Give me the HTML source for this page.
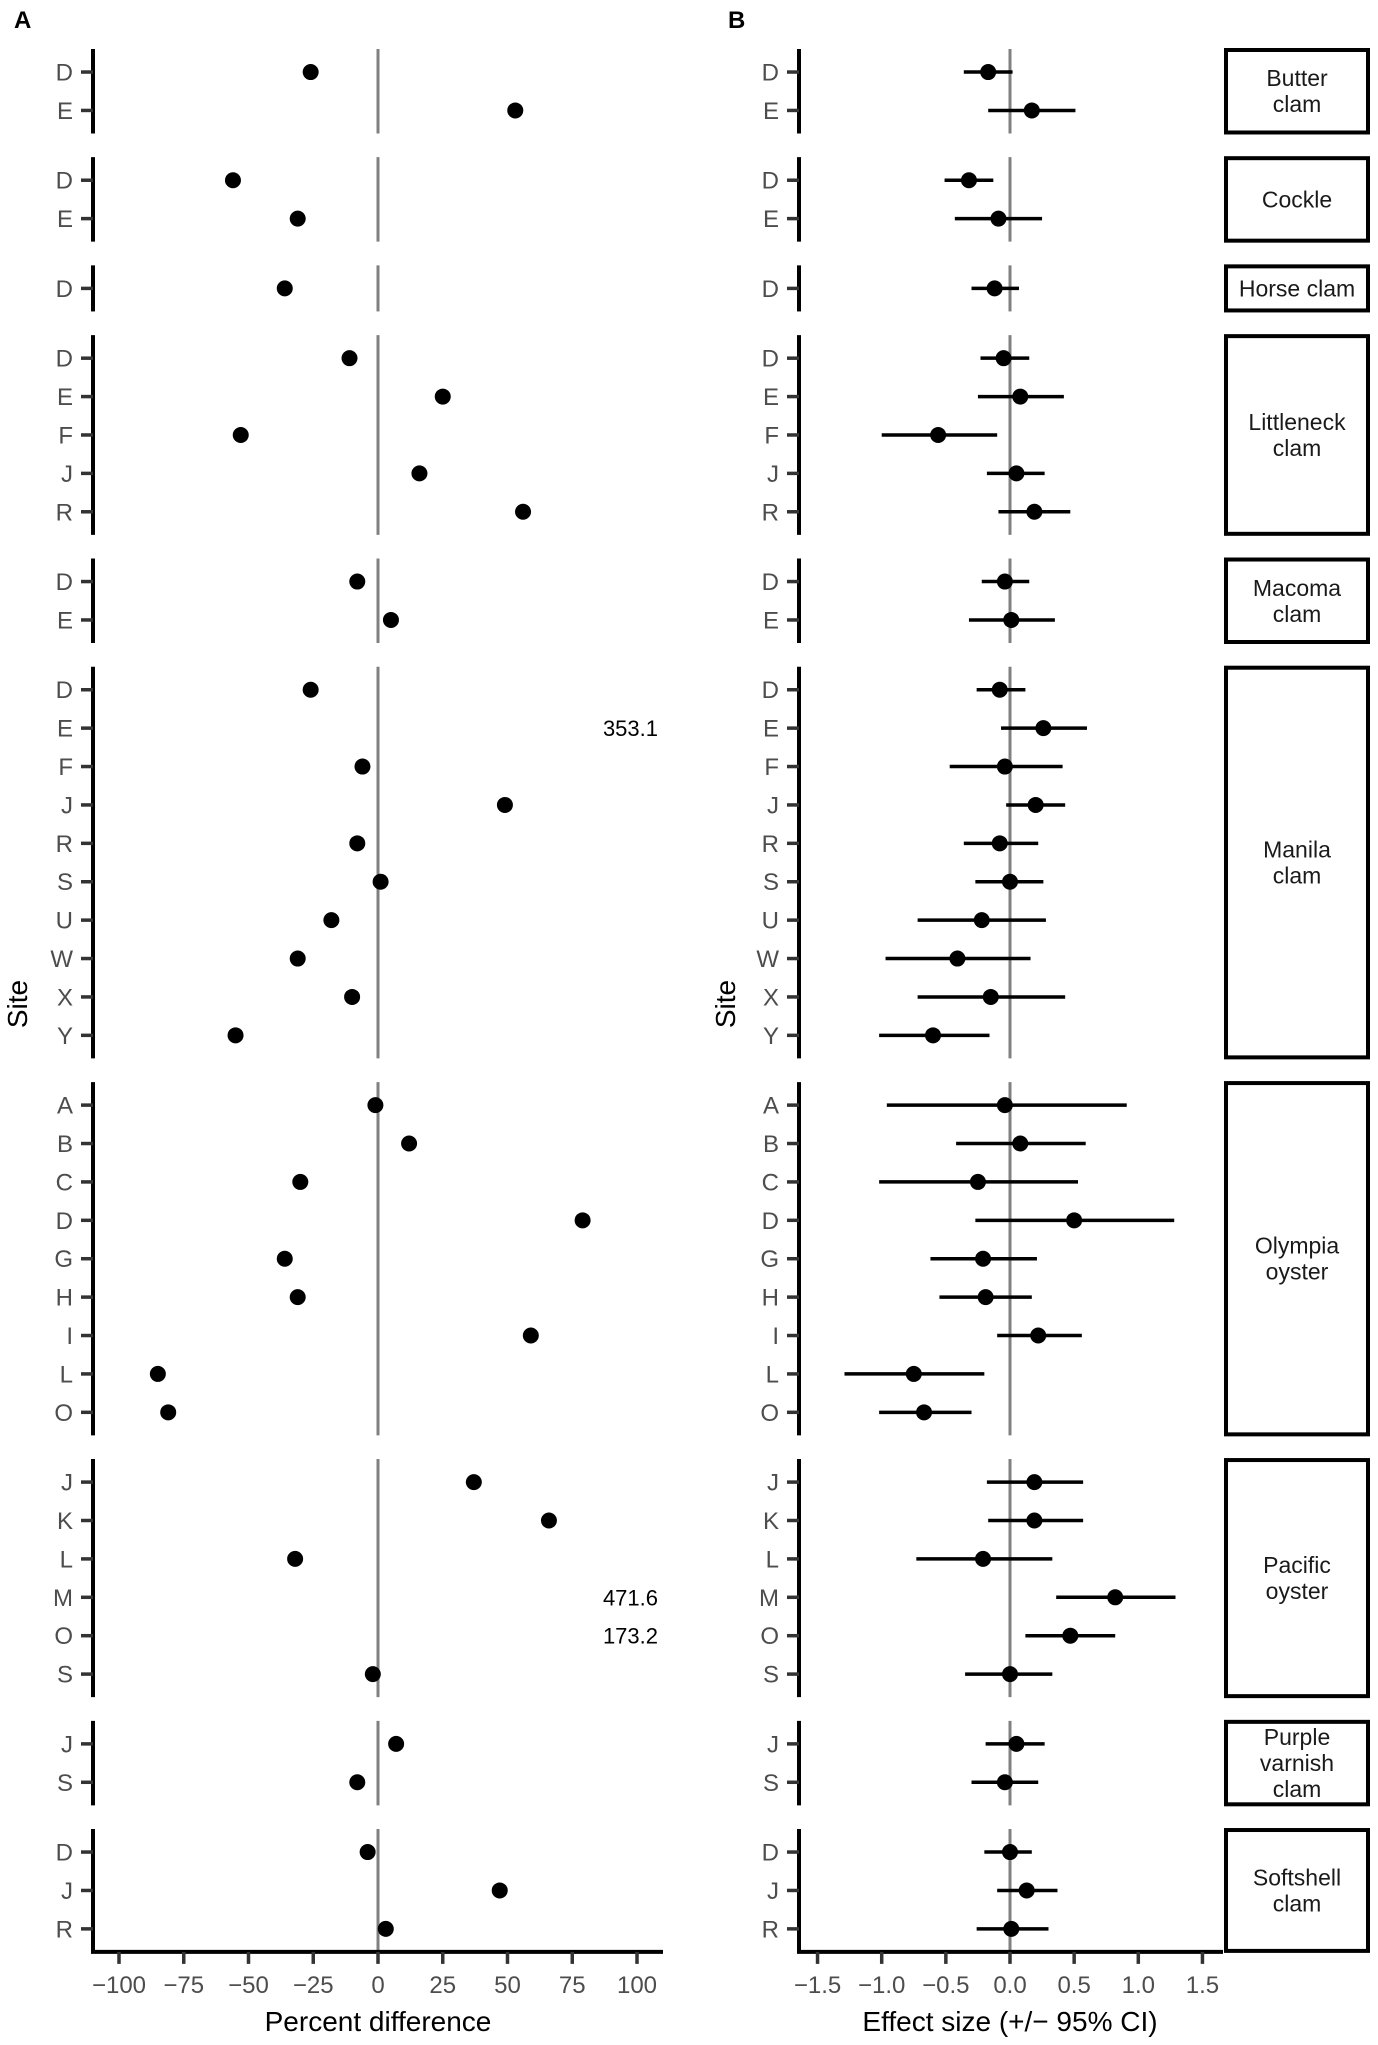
<!DOCTYPE html>
<html><head><meta charset="utf-8">
<style>
body{margin:0;background:#fff;}
svg{display:block;font-family:"Liberation Sans",Arial,sans-serif;}
</style></head>
<body>
<svg id="chart" width="1378" height="2045" viewBox="0 0 1378 2045" xmlns="http://www.w3.org/2000/svg">
<text x="14" y="28" font-size="24" font-weight="bold">A</text>
<text x="728" y="28" font-size="24" font-weight="bold">B</text>
<text transform="translate(27,1004) rotate(-90)" text-anchor="middle" font-size="28">Site</text>
<text transform="translate(735,1004) rotate(-90)" text-anchor="middle" font-size="28">Site</text>
<text x="378" y="2031" text-anchor="middle" font-size="28">Percent difference</text>
<text x="1010" y="2031" text-anchor="middle" font-size="28">Effect size (+/− 95% CI)</text>
<g id="plot"></g>
</svg>
<script>
const species = ["Butter clam","Cockle","Horse clam","Littleneck clam","Macoma clam","Manila clam","Olympia oyster","Pacific oyster","Purple varnish clam","Softshell clam"];
const stripLabels = [["Butter","clam"],["Cockle"],["Horse clam"],["Littleneck","clam"],["Macoma","clam"],["Manila","clam"],["Olympia","oyster"],["Pacific","oyster"],["Purple","varnish","clam"],["Softshell","clam"]];
const sites = [["D","E"],["D","E"],["D"],["D","E","F","J","R"],["D","E"],["D","E","F","J","R","S","U","W","X","Y"],["A","B","C","D","G","H","I","L","O"],["J","K","L","M","O","S"],["J","S"],["D","J","R"]];
const pctDiff = [[-26,53],[-56,-31],[-36],[-11,25,-53,16,56],[-8,5],[-26,353.1,-6,49,-8,1,-18,-31,-10,-55],[-1,12,-30,79,-36,-31,59,-85,-81],[37,66,-32,471.6,173.2,-2],[7,-8],[-4,47,3]];
const effect = [[-0.17,0.17],[-0.32,-0.09],[-0.12],[-0.05,0.08,-0.56,0.05,0.19],[-0.04,0.01],[-0.08,0.26,-0.04,0.2,-0.08,0,-0.22,-0.41,-0.15,-0.6],[-0.04,0.08,-0.25,0.5,-0.21,-0.19,0.22,-0.75,-0.67],[0.19,0.19,-0.21,0.82,0.47,0],[0.05,-0.04],[0,0.13,0.01]];
const ciLow = [[-0.36,-0.17],[-0.51,-0.43],[-0.30],[-0.23,-0.25,-1.0,-0.18,-0.09],[-0.22,-0.32],[-0.26,-0.07,-0.47,-0.03,-0.36,-0.27,-0.72,-0.97,-0.72,-1.02],[-0.96,-0.42,-1.02,-0.27,-0.62,-0.55,-0.1,-1.29,-1.02],[-0.18,-0.17,-0.73,0.36,0.12,-0.35],[-0.19,-0.3],[-0.2,-0.1,-0.26]];
const ciHigh = [[0.02,0.51],[-0.13,0.25],[0.07],[0.15,0.42,-0.1,0.27,0.47],[0.15,0.35],[0.12,0.6,0.41,0.43,0.22,0.26,0.28,0.16,0.43,-0.16],[0.91,0.59,0.53,1.28,0.21,0.17,0.56,-0.2,-0.3],[0.57,0.57,0.33,1.29,0.82,0.33],[0.27,0.22],[0.17,0.37,0.3]];
const pctTicks = [-100,-75,-50,-25,0,25,50,75,100];
const effTicks = [-1.5,-1.0,-0.5,0.0,0.5,1.0,1.5];
const effTickLabels = ["−1.5","−1.0","−0.5","0.0","0.5","1.0","1.5"];

const NS="http://www.w3.org/2000/svg";
const g=document.getElementById('plot');
function mk(tag,attrs,parent){const e=document.createElementNS(NS,tag);for(const k in attrs)e.setAttribute(k,attrs[k]);(parent||g).appendChild(e);return e;}
const xA=v=>378+v*2.59;
const xB=v=>1010+v*128.3;
const A_L=93,A_R=663,B_L=799,B_R=1223;
const STEP=38.4,GAP=23.7,TOP0=49;
let curTop=TOP0;
const pctMax=110;
for(let f=0;f<species.length;f++){
  const n=sites[f].length;
  const h=(n+0.2)*STEP;
  const t0=curTop;
  const rowY=i=>t0+0.6*STEP+i*STEP;
  let z=mk('line',{x1:xA(0),x2:xA(0),y1:t0,y2:t0+h,stroke:'#808080','stroke-width':3});
  
  
  z=mk('line',{x1:xB(0),x2:xB(0),y1:t0,y2:t0+h,stroke:'#808080','stroke-width':3});
  
  
  let ax=mk('line',{x1:A_L,x2:A_L,y1:t0,y2:t0+h,stroke:'#000','stroke-width':4});
  
  
  ax=mk('line',{x1:B_L,x2:B_L,y1:t0,y2:t0+h,stroke:'#000','stroke-width':4});
  
  
  for(let i=0;i<n;i++){
    const y=rowY(i);
    for(const [axX,labX] of [[A_L,73],[B_L,779]]){
      const t=mk('line',{x1:axX-12,x2:axX,y1:y,y2:y,stroke:'#333','stroke-width':3.5});
      
      
      const tl=mk('text',{x:labX,y:y+8.5,'text-anchor':'end','font-size':24,fill:'#4d4d4d'});
      tl.textContent=sites[f][i];
      
      
    }
    const v=pctDiff[f][i];
    if(v>pctMax){
      const lt=mk('text',{x:658,y:y+8,'text-anchor':'end','font-size':22,fill:'#000'});
      lt.textContent=v.toFixed(1);
      
      
    } else {
      const c=mk('circle',{cx:xA(v),cy:y,r:8,fill:'#000'});
      
      
    }
    const eb=mk('line',{x1:xB(ciLow[f][i]),x2:xB(ciHigh[f][i]),y1:y,y2:y,stroke:'#000','stroke-width':3.5});
    
    
    const c2=mk('circle',{cx:xB(effect[f][i]),cy:y,r:8,fill:'#000'});
    
    
  }
  const sr=mk('rect',{x:1226,y:t0+1,width:142,height:h-2,fill:'#fff',stroke:'#000','stroke-width':4});
  
  
  const lines=stripLabels[f];
  const cy=t0+h/2;
  lines.forEach((s,k)=>{
    const st=mk('text',{x:1297,y:cy+(k-(lines.length-1)/2)*26+8,'text-anchor':'middle','font-size':23,fill:'#1a1a1a'});
    st.textContent=s;
    
    
  });
  curTop+=h+GAP;
}
const bottom=curTop-GAP;
let xa=mk('line',{x1:A_L-2,x2:A_R,y1:bottom,y2:bottom,stroke:'#000','stroke-width':4});


xa=mk('line',{x1:B_L-2,x2:B_R,y1:bottom,y2:bottom,stroke:'#000','stroke-width':4});


pctTicks.forEach(v=>{
  const t=mk('line',{x1:xA(v),x2:xA(v),y1:bottom,y2:bottom+12,stroke:'#333','stroke-width':3.5});
  
  
  const l=mk('text',{x:xA(v),y:bottom+41,'text-anchor':'middle','font-size':24,fill:'#4d4d4d'});
  l.textContent=v<0?'−'+Math.abs(v):String(v);
  
  
});
effTicks.forEach((v,i)=>{
  const t=mk('line',{x1:xB(v),x2:xB(v),y1:bottom,y2:bottom+12,stroke:'#333','stroke-width':3.5});
  
  
  const l=mk('text',{x:xB(v),y:bottom+41,'text-anchor':'middle','font-size':24,fill:'#4d4d4d'});
  l.textContent=effTickLabels[i];
  
  
});
</script>
</body></html>
